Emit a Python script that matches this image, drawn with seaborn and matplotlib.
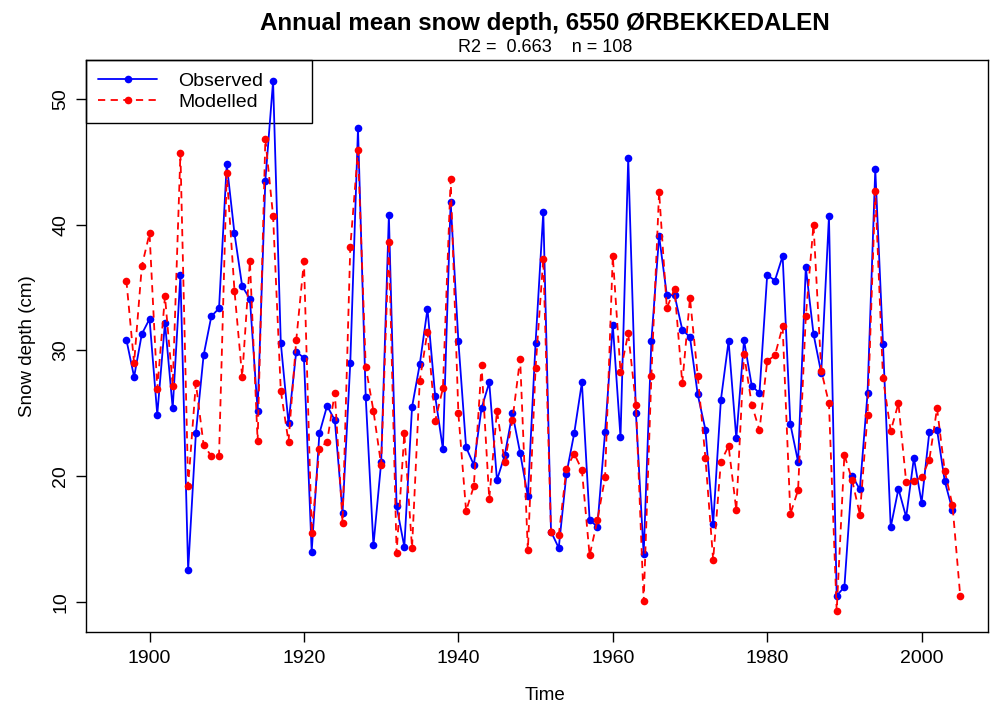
import matplotlib
matplotlib.use("Agg")
import matplotlib.pyplot as plt
import seaborn as sns

# ---------------- data ----------------
years_obs = list(range(1897, 2005))
observed = [30.85, 27.9, 31.3, 32.5, 24.9, 32.2, 25.4, 36.0, 12.55, 23.4,
            29.6, 32.7, 33.35, 44.8, 39.3, 35.1, 34.1, 25.2, 43.5, 51.4,
            30.6, 24.2, 29.9, 29.4, 14.0, 23.4, 25.6, 24.45, 17.1, 29.0,
            47.65, 26.3, 14.5, 21.1, 40.75, 17.6, 14.4, 25.5, 28.9, 33.3,
            26.35, 22.15, 41.8, 30.75, 22.3, 20.9, 25.4, 27.45, 19.7, 21.65,
            25.0, 21.85, 18.4, 30.6, 41.0, 15.6, 14.3, 20.2, 23.4, 27.45,
            16.5, 16.0, 23.5, 32.05, 23.1, 45.3, 25.0, 13.8, 30.75, 39.1,
            34.4, 34.4, 31.65, 31.05, 26.5, 23.7, 16.2, 26.05, 30.75, 23.0,
            30.8, 27.2, 26.6, 36.0, 35.55, 37.5, 24.15, 21.15, 36.6, 31.3,
            28.2, 40.65, 10.5, 11.2, 20.05, 18.95, 26.6, 44.4, 30.5, 15.95,
            19.0, 16.75, 21.45, 17.9, 23.5, 23.7, 19.6, 17.3]

years_mod = list(range(1897, 2006))
modelled = [35.55, 29.0, 36.7, 39.3, 26.95, 34.3, 27.2, 45.65, 19.25, 27.4,
            22.5, 21.6, 21.6, 44.1, 34.75, 27.9, 37.1, 22.8, 46.8, 40.7,
            26.8, 22.75, 30.8, 37.1, 15.5, 22.2, 22.75, 26.65, 16.3, 38.2,
            45.9, 28.7, 25.2, 20.9, 38.6, 13.9, 23.4, 14.3, 27.6, 31.5,
            24.4, 27.0, 43.6, 25.0, 17.25, 19.2, 28.85, 18.2, 25.2, 21.1,
            24.45, 29.35, 14.1, 28.6, 37.3, 15.6, 15.3, 20.6, 21.8, 20.5,
            13.7, 16.5, 19.9, 37.5, 28.3, 31.35, 25.7, 10.05, 28.0, 42.6,
            33.35, 34.9, 27.4, 34.15, 28.0, 21.45, 13.35, 21.15, 22.4, 17.3,
            29.7, 25.7, 23.65, 29.15, 29.6, 31.9, 17.0, 18.9, 32.7, 40.0,
            28.4, 25.8, 9.3, 21.7, 19.7, 16.95, 24.9, 42.7, 27.8, 23.6,
            25.8, 19.55, 19.65, 19.9, 21.3, 25.4, 20.4, 17.7, 10.5]

series_labels = ["Observed", "Modelled"]
title = "Annual mean snow depth, 6550 ØRBEKKEDALEN"
subtitle = "R2 =  0.663    n = 108"
x_label = "Time"
y_label = "Snow depth (cm)"
x_ticks = [1900, 1920, 1940, 1960, 1980, 2000]
y_ticks = [10, 20, 30, 40, 50]

# ---------------- style ----------------
sns.set_theme(style="white")
plt.rcParams["font.family"] = ["Liberation Sans", "DejaVu Sans"]
plt.rcParams["axes.edgecolor"] = "black"
plt.rcParams["axes.linewidth"] = 1.0
plt.rcParams["text.color"] = "black"
plt.rcParams["axes.labelcolor"] = "black"
plt.rcParams["xtick.color"] = "black"
plt.rcParams["ytick.color"] = "black"

W, H = 990, 704
fig = plt.figure(figsize=(W / 100, H / 100), dpi=100)
ax_l, ax_r, ax_t, ax_b = 86, 988, 60, 632
ax = fig.add_axes([ax_l / W, 1 - ax_b / H, (ax_r - ax_l) / W, (ax_b - ax_t) / H])

sns.lineplot(x=years_obs, y=observed, ax=ax, color="#0000FF", marker="o",
             markersize=5.5, markeredgewidth=0, linewidth=1.3,
             label=series_labels[0], zorder=3)
sns.lineplot(x=years_mod, y=modelled, ax=ax, color="#FF0000", marker="o",
             markersize=5.5, markeredgewidth=0, linewidth=1.3,
             linestyle=(0, (4, 3)), label=series_labels[1], zorder=4)

ax.set_xlim(1891.77, 2008.6)
ax.set_ylim(7.62, 53.08)
ax.set_xticks(x_ticks)
ax.set_yticks(y_ticks)
ax.set_xticklabels([str(t) for t in x_ticks])
ax.set_yticklabels([str(t) for t in y_ticks])
ax.tick_params(axis="both", direction="out", length=7.2, width=1,
               color="black", labelsize=14, labelcolor="black")
ax.tick_params(axis="x", pad=6)
ax.tick_params(axis="y", pad=5)
for lbl in ax.get_yticklabels():
    lbl.set_rotation(90)
    lbl.set_va("center")
ax.tick_params(left=True, bottom=True)
for sp in ax.spines.values():
    sp.set_visible(True)
    sp.set_color("black")
    sp.set_linewidth(1.0)
    sp.set_zorder(6)

cx = (545 - ax_l) / (ax_r - ax_l)
ax.set_xlabel(x_label, fontsize=13.5, va="center")
ax.xaxis.set_label_coords(cx, (ax_b - 696) / (ax_b - ax_t))
ax.set_ylabel(y_label, fontsize=13.5, va="center")
ax.yaxis.set_label_coords((27 - ax_l) / (ax_r - ax_l), 0.5)

ax.text(cx, (ax_b - 23) / (ax_b - ax_t), title, transform=ax.transAxes,
        ha="center", va="center", fontsize=17.4, fontweight="bold")
ax.text(cx, (ax_b - 48) / (ax_b - ax_t), subtitle, transform=ax.transAxes,
        ha="center", va="center", fontsize=13)

handles, labels = ax.get_legend_handles_labels()
leg = ax.legend(handles, labels, loc="upper left",
                bbox_to_anchor=(0, 0.5, (312 - ax_l) / (ax_r - ax_l), 0.5),
                mode="expand", borderaxespad=0, fontsize=14,
                handlelength=3.0, handletextpad=1.1, borderpad=0.64,
                labelspacing=0.15, fancybox=False, framealpha=1,
                edgecolor="black")
leg.get_frame().set_linewidth(1.0)
leg.set_zorder(2)

fig.savefig("out.png", dpi=100)
